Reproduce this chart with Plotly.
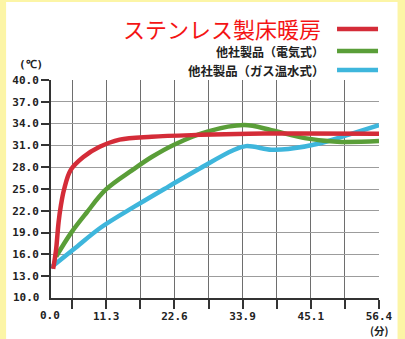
import plotly.graph_objects as go

# ---- data -------------------------------------------------------------
series_names = ["ステンレス製床暖房", "他社製品（電気式）", "他社製品（ガス温水式）"]
series_colors = ["#d42c38", "#5a9e38", "#3eb6dc"]

# time axis (minutes) -- chart starts at label "0.0"
x_start = 2.15
x_tick_labels = ["0.0", "11.3", "22.6", "33.9", "45.1", "56.4"]
grid_step = 5.64

red_x = [2.5, 2.8, 3.0, 3.4, 3.8, 4.3, 5.4, 7.5, 10.2, 13.5, 18.8, 26.9, 34.9, 43.0, 56.4]
red_y = [14.0, 15.5, 16.7, 20.4, 22.8, 24.9, 27.6, 29.4, 30.8, 31.8, 32.2, 32.45, 32.6, 32.65, 32.6]

green_x = [3.0, 5.5, 8.0, 11.2, 15.6, 18.8, 22.5, 28.0, 34.1, 38.6, 44.1, 49.5, 56.4]
green_y = [15.7, 19.0, 21.7, 24.9, 27.6, 29.4, 31.1, 32.9, 33.8, 33.1, 32.0, 31.5, 31.6]

blue_x = [2.15, 5.9, 10.4, 16.0, 21.5, 26.9, 32.2, 34.4, 38.6, 41.4, 46.7, 52.2, 56.4]
blue_y = [14.2, 16.7, 19.7, 22.6, 25.3, 27.9, 30.3, 30.9, 30.4, 30.5, 31.3, 32.7, 33.8]

y_ticks = [13, 16, 19, 22, 25, 28, 31, 34, 37, 40]
y_min, y_max = 10, 40

# ---- layout constants (pixels) -----------------------------------------
W, H = 405, 339
L, R, T, B = 47, 22, 80, 41
plot_w = W - L - R
plot_h = H - T - B


def px_x(px):
    return (px - L) / plot_w


def px_y(py):
    return (H - B - py) / plot_h


fig = go.Figure()
# blue first so green and red sit on top where the curves meet at the start
for xs, ys, name, col in [(blue_x, blue_y, series_names[2], series_colors[2]),
                          (green_x, green_y, series_names[1], series_colors[1]),
                          (red_x, red_y, series_names[0], series_colors[0])]:
    fig.add_trace(go.Scatter(x=xs, y=ys, mode="lines", name=name,
                             line=dict(color=col, width=4.5, shape="spline", smoothing=1.0),
                             showlegend=False, hoverinfo="skip"))

grid_vals = [grid_step * k for k in range(1, 11)]
grid_text = []
for v in grid_vals:
    lab = ""
    for t in x_tick_labels[1:]:
        if abs(float(t) - v) < 0.2:
            lab = t
    grid_text.append(lab)

tick_font = dict(family="DejaVu Sans Mono", size=11, color="#222", weight="bold")

fig.update_layout(
    width=W, height=H,
    margin=dict(l=L, r=R, t=T, b=B),
    paper_bgcolor="#fcf5a6",
    plot_bgcolor="white",
    xaxis=dict(range=[x_start, grid_step * 10], tickvals=grid_vals, ticktext=grid_text,
               ticks="outside", ticklen=9, tickwidth=2, tickcolor="#333",
               ticklabelstandoff=-2,
               showgrid=True, gridcolor="#6e6e6e", gridwidth=1.4,
               showline=True, linecolor="#333", linewidth=2, zeroline=False,
               tickfont=tick_font),
    yaxis=dict(range=[y_min, y_max], tickvals=y_ticks,
               ticktext=[f"{v:.1f}" for v in y_ticks],
               ticks="outside", ticklen=8, tickwidth=2, tickcolor="#333",
               showgrid=True, gridcolor="#9c9c9c", gridwidth=1.4,
               showline=True, linecolor="#333", linewidth=2, zeroline=False,
               tickfont=tick_font),
)

shapes = [
    # white card over the pale-yellow frame
    dict(type="rect", xref="paper", yref="paper", layer="below",
         x0=px_x(1), x1=px_x(402), y0=px_y(H + 5), y1=px_y(2),
         fillcolor="white", line=dict(width=0)),
]
legend_rows = [29, 51, 70]
for row, col in zip(legend_rows, series_colors):
    shapes.append(dict(type="line", xref="paper", yref="paper",
                       x0=px_x(340), x1=px_x(382), y0=px_y(row), y1=px_y(row),
                       line=dict(color=col, width=4.5)))
fig.update_layout(shapes=shapes)

annotations = [
    dict(text=series_names[0], x=px_x(326), y=px_y(28), xanchor="right", yanchor="middle",
         height=26, font=dict(family="Noto Sans CJK JP", size=22, color="#f41414")),
    dict(text=series_names[1], x=px_x(329), y=px_y(51), xanchor="right", yanchor="middle",
         height=15, font=dict(family="Noto Sans CJK JP", size=12, color="#222", weight="bold")),
    dict(text=series_names[2], x=px_x(329), y=px_y(70), xanchor="right", yanchor="middle",
         height=15, font=dict(family="Noto Sans CJK JP", size=12.4, color="#222", weight="bold")),
    dict(text="(℃)", x=px_x(26), y=px_y(64), xanchor="center", yanchor="middle",
         font=dict(family="DejaVu Sans Mono", size=11, color="#222", weight="bold")),
    dict(text="(分)", x=px_x(383), y=px_y(330.5), xanchor="center", yanchor="middle",
         font=dict(family="Noto Sans CJK JP", size=10.5, color="#222", weight="bold")),
    # origin labels (no tick marks drawn there)
    dict(text=x_tick_labels[0], x=px_x(46), y=px_y(315), xanchor="center", yanchor="middle",
         font=tick_font),
    dict(text=f"{y_min:.1f}", x=px_x(38), y=px_y(297), xanchor="right", yanchor="middle",
         font=tick_font),
]
for a in annotations:
    a.update(xref="paper", yref="paper", showarrow=False)
fig.update_layout(annotations=annotations)

fig.write_html("out.html")
